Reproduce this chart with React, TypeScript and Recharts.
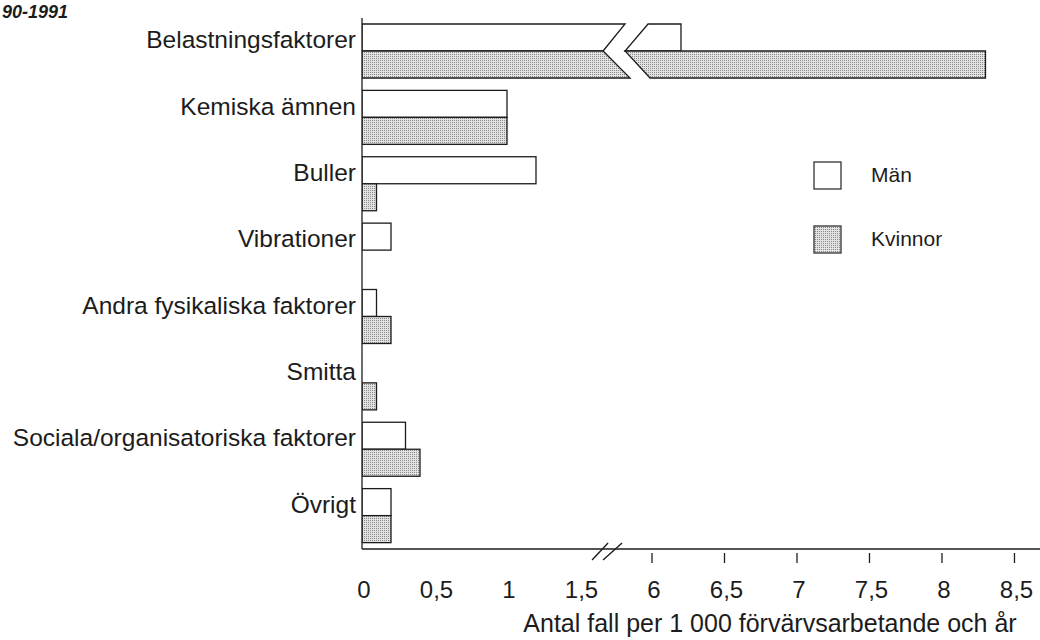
import React from "react";
import { BarChart, Bar, XAxis, YAxis, Legend, ReferenceLine } from "recharts";

const categories = [
  "Belastningsfaktorer",
  "Kemiska ämnen",
  "Buller",
  "Vibrationer",
  "Andra fysikaliska faktorer",
  "Smitta",
  "Sociala/organisatoriska faktorer",
  "Övrigt",
];
const man = [6.2, 1.0, 1.2, 0.2, 0.1, 0, 0.3, 0.2];
const kvinnor = [8.3, 1.0, 0.1, 0, 0.2, 0.1, 0.4, 0.2];

const tickValues = [0, 0.5, 1, 1.5, 6, 6.5, 7, 7.5, 8, 8.5];
const tickLabels = ["0", "0,5", "1", "1,5", "6", "6,5", "7", "7,5", "8", "8,5"];
const xTitle = "Antal fall per 1 000 förvärvsarbetande och år";
const heading = "90-1991";

// broken axis: 1.69 .. 5.69 is cut out
const BREAK_AT = 1.69;
const SHIFT = 4;
const toAxis = (v: number) => (v > BREAK_AT ? v - SHIFT : v);

const data = categories.map((name, i) => ({
  name,
  man: toAxis(man[i]),
  kvinnor: toAxis(kvinnor[i]),
}));

const FONT = "'Liberation Sans', Arial, Helvetica, sans-serif";
const INK = "#1c1c1c";

function brokenBar(key: string, upper: boolean) {
  return (props: any) => {
    const { x, y, width, height, fill } = props;
    if (!width || width <= 0.5) return <g />;
    const d = props.payload ? props.payload[key] : 0;
    const common = { fill, stroke: INK, strokeWidth: 1.3 };
    if (d <= BREAK_AT) {
      return <rect x={x} y={y} width={width} height={height} {...common} />;
    }
    const v0 = x + width * (BREAK_AT / d) - 4;
    const r = x + width;
    const b = y + height;
    const left = upper
      ? `M${x},${y} L${v0 + 22},${y} L${v0},${b} L${x},${b} Z`
      : `M${x},${y} L${v0},${y} L${v0 + 27},${b} L${x},${b} Z`;
    const right = upper
      ? `M${v0 + 45},${y} L${r},${y} L${r},${b} L${v0 + 22},${b} Z`
      : `M${v0 + 22},${y} L${r},${y} L${r},${b} L${v0 + 47},${b} Z`;
    return (
      <g>
        <path d={left} {...common} />
        <path d={right} {...common} />
      </g>
    );
  };
}

const CatTick = ({ x, y, payload }: any) => (
  <text x={x} y={y - 3} textAnchor="end" fontSize={24.5} fill={INK} fontFamily={FONT}>
    {payload.value}
  </text>
);

const axisTicks = tickValues.map(toAxis);

const ValTick = ({ x, y, payload }: any) => {
  const i = axisTicks.indexOf(payload.value);
  const raw = tickValues[i];
  return (
    <g>
      {raw >= 6 && <line x1={x} x2={x} y1={y + 4} y2={y + 14} stroke={INK} strokeWidth={1.3} />}
      <text x={x + 2} y={y + 49} textAnchor="middle" fontSize={24} fill={INK} fontFamily={FONT}>
        {tickLabels[i]}
      </text>
    </g>
  );
};

const AxisTitle = ({ viewBox }: any) => {
  if (!viewBox) return null;
  return (
    <text
      x={viewBox.x + 408}
      y={viewBox.y + 83}
      textAnchor="middle"
      fontSize={25}
      fill={INK}
      fontFamily={FONT}
    >
      {xTitle}
    </text>
  );
};

const BreakMarks = (p: any) => {
  const cx = p.x1 ?? p.x;
  const by = Math.max(p.y1 ?? 0, p.y2 ?? 0);
  return (
    <g stroke={INK} strokeWidth={1.4}>
      <line x1={cx - 15} y1={by + 11} x2={cx + 1} y2={by - 6} />
      <line x1={cx - 4} y1={by + 11} x2={cx + 15} y2={by - 6} />
    </g>
  );
};

const seriesOrder = ["man", "kvinnor"];
const fills: Record<string, string> = { man: "#ffffff", kvinnor: "url(#stipple)" };

const LegendBox = ({ payload }: any) => {
  const items = [...(payload || [])].sort(
    (a: any, b: any) => seriesOrder.indexOf(a.dataKey) - seriesOrder.indexOf(b.dataKey)
  );
  return (
    <div style={{ fontFamily: FONT, fontSize: 21, color: INK }}>
      {items.map((e: any) => (
        <div key={e.value} style={{ display: "flex", alignItems: "center", height: 28, marginBottom: 36 }}>
          <svg width={29} height={29} style={{ display: "block" }}>
            <rect x={1} y={1} width={27} height={27} fill={fills[e.dataKey] ?? e.color} stroke="#333" strokeWidth={1.3} />
          </svg>
          <span style={{ marginLeft: 29 }}>{e.value}</span>
        </div>
      ))}
    </div>
  );
};

export default function App() {
  return (
    <div style={{ position: "relative", width: 1040, height: 640, background: "#fff", overflow: "hidden" }}>
      <style>{"body{margin:0}"}</style>
      <svg width={0} height={0} style={{ position: "absolute" }}>
        <defs>
          <pattern id="stipple" width={2} height={2} patternUnits="userSpaceOnUse">
            <rect width={2} height={2} fill="#e2e2e2" />
            <rect width={1} height={1} fill="#8a8a8a" />
          </pattern>
        </defs>
      </svg>
      <div
        style={{
          position: "absolute",
          left: 2,
          top: 2,
          fontFamily: FONT,
          fontWeight: "bold",
          fontStyle: "italic",
          fontSize: 18,
          lineHeight: 1.2,
          color: INK,
        }}
      >
        {heading}
      </div>
      <BarChart
        width={1040}
        height={640}
        data={data}
        layout="vertical"
        margin={{ top: 18, right: 0, bottom: 0, left: 0 }}
        barSize={27}
        barGap={0}
      >
        <XAxis
          type="number"
          domain={[0, 4.676]}
          ticks={axisTicks}
          interval={0}
          allowDataOverflow
          height={91}
          tickSize={0}
          tickMargin={0}
          tickLine={false}
          tick={<ValTick />}
          axisLine={{ stroke: INK, strokeWidth: 1.3 }}
          label={<AxisTitle />}
        />
        <YAxis
          type="category"
          dataKey="name"
          width={362}
          interval={0}
          tickSize={0}
          tickMargin={6}
          tickLine={false}
          tick={<CatTick />}
          axisLine={{ stroke: INK, strokeWidth: 1.3 }}
        />
        <Legend
          layout="horizontal"
          align="center"
          verticalAlign="middle"
          wrapperStyle={{ left: 813, top: 161, width: 200, height: 110 }}
          content={<LegendBox />}
        />
        <ReferenceLine x={BREAK_AT} stroke="none" shape={BreakMarks} ifOverflow="visible" />
        <Bar
          dataKey="man"
          name="Män"
          fill="#ffffff"
          isAnimationActive={false}
          shape={brokenBar("man", true)}
        />
        <Bar
          dataKey="kvinnor"
          name="Kvinnor"
          fill="url(#stipple)"
          isAnimationActive={false}
          shape={brokenBar("kvinnor", false)}
        />
      </BarChart>
    </div>
  );
}
